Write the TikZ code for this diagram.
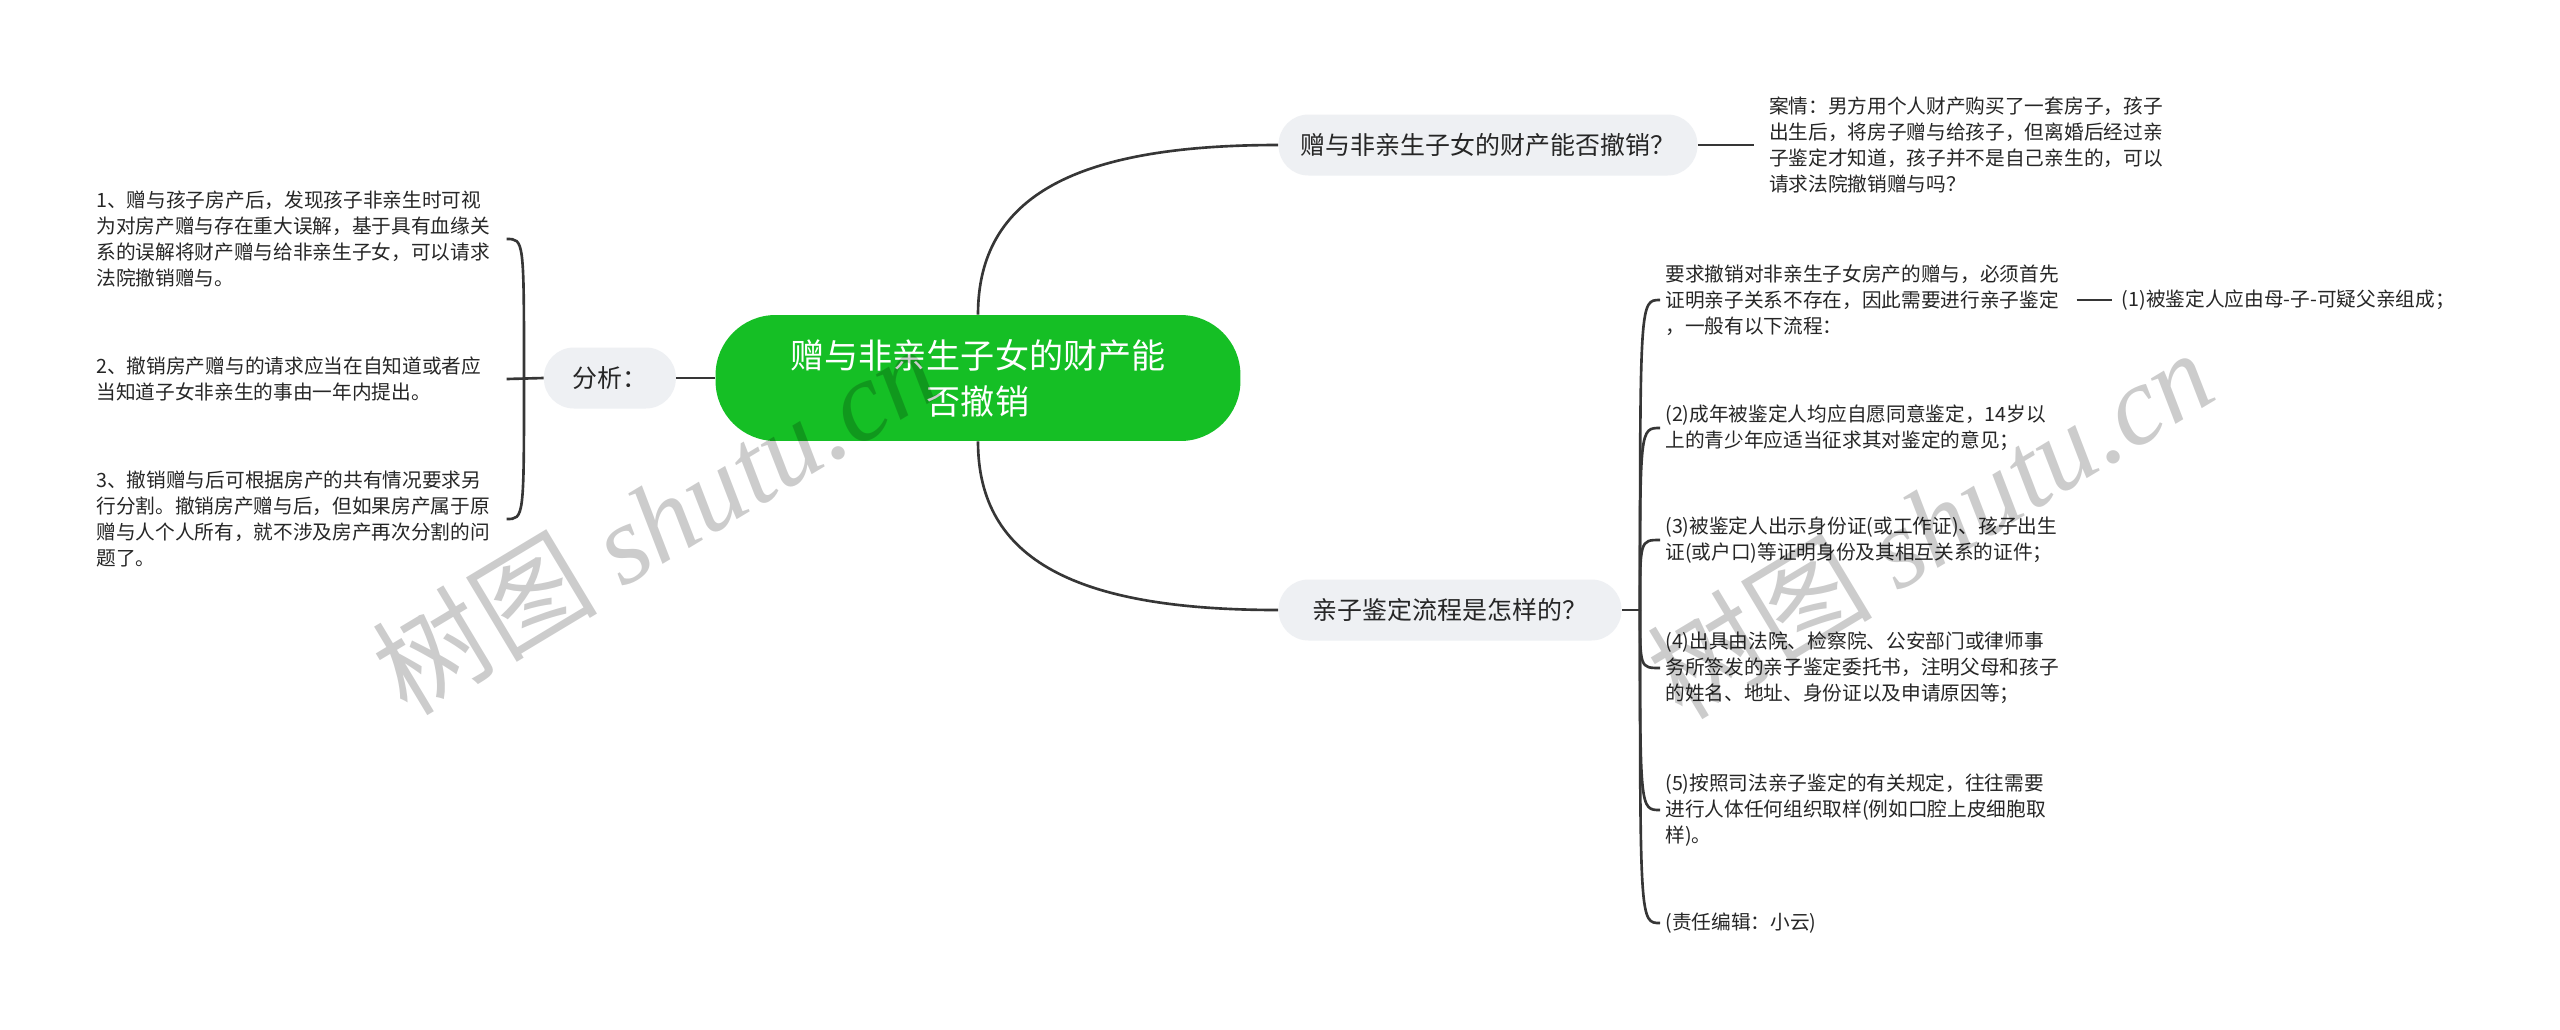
\documentclass[tikz,border=0pt]{standalone}
\usepackage{fontspec}
\setmainfont{Noto Sans CJK SC}
\newfontfamily\wmfont{Liberation Serif}
\usepackage{xcolor}
\usepackage{tikz}
\usetikzlibrary{positioning}
\definecolor{MapGreen}{HTML}{15BF25}
\definecolor{PillGray}{HTML}{EEF0F3}
\definecolor{InkGray}{HTML}{262626}
\definecolor{WireGray}{HTML}{363636}

\begin{document}
\begin{tikzpicture}[x=0.02cm, y=-0.02cm,
  rootbox/.style={rounded corners=1.2cm, fill=MapGreen, text=white, minimum width=10.5cm, minimum height=2.52cm, align=center, font=\fontsize{19.4}{26.2}\selectfont},
  pill/.style={rounded corners=0.6cm, fill=PillGray, text=InkGray, minimum height=1.22cm, font=\fontsize{14.2}{17}\selectfont},
  leaf/.style={text=InkGray, align=left, inner xsep=0.1cm, inner ysep=0.05cm, font=\fontsize{11.2}{14.7}\selectfont},
  wire/.style={draw=WireGray, line width=1.5pt},
  wmark/.style={rotate=31, text=black, text opacity=0.2, font=\fontsize{64}{64}\selectfont}]
  \useasboundingbox[fill=white] (0,0) rectangle (2560,1029);
  % centre and first level
  \node[rootbox] (fx) at (978,378) {赠与非亲生子女的财产能\\否撤销};
  \node[pill, minimum width=2.64cm, left=0.78cm of fx] (fenxi) {分析：};
  \node[pill, minimum width=8.38cm] (q1) at (1488,145) {赠与非亲生子女的财产能否撤销？};
  \node[pill, minimum width=6.86cm] (q2) at (1450,610) {亲子鉴定流程是怎样的？};
  % left branch
  \node[leaf, text width=8.1cm, anchor=west] (t1) at (91,239) {1、赠与孩子房产后，发现孩子非亲生时可视\\为对房产赠与存在重大误解，基于具有血缘关\\系的误解将财产赠与给非亲生子女，可以请求\\法院撤销赠与。};
  \node[leaf, text width=8.1cm, anchor=west] (t2) at (91,379) {2、撤销房产赠与的请求应当在自知道或者应\\当知道子女非亲生的事由一年内提出。};
  \node[leaf, text width=8.1cm, anchor=west] (t3) at (91,519) {3、撤销赠与后可根据房产的共有情况要求另\\行分割。撤销房产赠与后，但如果房产属于原\\赠与人个人所有，就不涉及房产再次分割的问\\题了。};
  % right branches
  \node[leaf, right=1.32cm of q1] (anli) {案情：男方用个人财产购买了一套房子，孩子\\出生后，将房子赠与给孩子，但离婚后经过亲\\子鉴定才知道，孩子并不是自己亲生的，可以\\请求法院撤销赠与吗？};
  \node[leaf, text width=8cm, anchor=west] (c1) at (1660,300) {要求撤销对非亲生子女房产的赠与，必须首先\\证明亲子关系不存在，因此需要进行亲子鉴定\\，一般有以下流程：};
  \node[leaf, right=0.92cm of c1] (sub1) {(1)被鉴定人应由母-子-可疑父亲组成；};
  \node[leaf, text width=8cm, anchor=west] (c2) at (1660,428) {(2)成年被鉴定人均应自愿同意鉴定，14岁以\\上的青少年应适当征求其对鉴定的意见；};
  \node[leaf, text width=8cm, anchor=west] (c3) at (1660,540) {(3)被鉴定人出示身份证(或工作证)、孩子出生\\证(或户口)等证明身份及其相互关系的证件；};
  \node[leaf, text width=8cm, anchor=west] (c4) at (1660,668) {(4)出具由法院、检察院、公安部门或律师事\\务所签发的亲子鉴定委托书，注明父母和孩子\\的姓名、地址、身份证以及申请原因等；};
  \node[leaf, text width=8cm, anchor=west] (c5) at (1660,810) {(5)按照司法亲子鉴定的有关规定，往往需要\\进行人体任何组织取样(例如口腔上皮细胞取\\样)。};
  \node[leaf, text width=8cm, anchor=west] (c6) at (1660,923) {(责任编辑：小云)};
  \coordinate (jL) at (524,378);
  \coordinate (jR) at (1640,610);
  % connectors
  \draw[wire] (fx.north) .. controls +(0,-120) and +(-200,0) .. (q1.west);
  \draw[wire] (fx.south) .. controls +(0,120) and +(-200,0) .. (q2.west);
  \draw[wire] (fx.west) -- (fenxi.east);
  \draw[wire] (fenxi.west) -- (t2.east);
  \draw[wire] (jL) .. controls (jL |- t1.east) .. (t1.east);
  \draw[wire] (jL) .. controls (jL |- t3.east) .. (t3.east);
  \draw[wire, shorten >=0.2cm] (q1.east) -- (anli.west);
  \draw[wire] (q2.east) -- (jR);
  \foreach \k in {c1,c2,c3,c4,c5,c6}
    \draw[wire] (jR) .. controls (jR |- \k.west) .. (\k.west);
  \draw[wire, shorten <=0.12cm, shorten >=0.1cm] (c1.east) -- (sub1.west);
  % watermark
  \node[wmark] (wm1) at (655,519) {树图 {\wmfont\itshape shutu.cn}};
  \node[wmark] (wm2) at (1930,523) {树图 {\wmfont\itshape shutu.cn}};
\end{tikzpicture}
\end{document}
